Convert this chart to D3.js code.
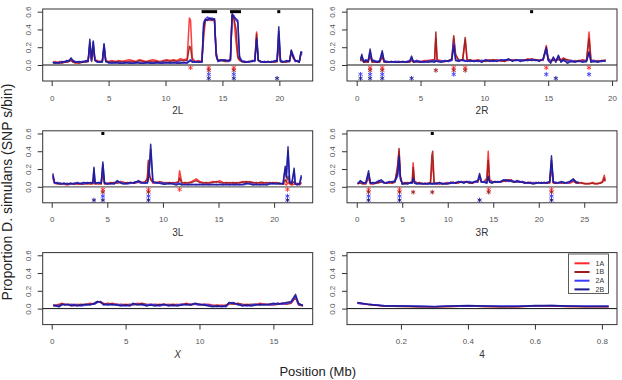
<!DOCTYPE html>
<html><head><meta charset="utf-8">
<script src="https://cdn.jsdelivr.net/npm/d3@7"></script>
<style>body{margin:0;background:#fff}svg{display:block}text{font-family:"Liberation Sans",Arial,sans-serif}</style>
</head><body><svg id="c" width="622" height="380"></svg>
<script>
const seriesNames = ["1A","1B","2A","2B"];
const seriesColors = ["#ff2a2a","#9e1c1c","#3a3aff","#1c1a8e"];
const chromosomes = ["2L","2R","3L","3R","X","4"];
const xTicks = {"2L":[0,5,10,15,20],"2R":[0,5,10,15,20],"3L":[0,5,10,15,20],"3R":[0,5,10,15,20,25],"X":[0,5,10,15],"4":[0.2,0.4,0.6,0.8]};
const yTicks = [0,0.2,0.4,0.6];
const yTickLabels = ["0.0","0.2","0.4","0.6"];

// ---- 2L ----
const pos_2L = [0.1,0.3,0.5,0.7,0.9,1.1,1.3,1.5,1.7,1.9,
 2.1,2.4,2.7,3.0,3.2,3.35,3.5,3.65,3.8,4.0,
 4.2,4.45,4.6,4.75,5.0,5.3,5.6,5.9,6.2,6.5,
 6.8,7.1,7.4,7.7,8.0,8.3,8.6,8.9,9.2,9.5,
 9.8,10.1,10.4,10.7,11.0,11.3,11.6,11.9,12.1,12.2,
 12.35,12.6,12.9,13.2,13.35,13.5,13.7,13.9,14.1,14.3,
 14.45,14.6,14.9,15.2,15.5,15.7,15.85,16.0,16.2,16.35,
 16.5,16.7,17.0,17.3,17.6,17.85,18.0,18.15,18.4,18.7,
 19.0,19.3,19.6,19.8,19.95,20.1,20.3,20.6,20.9,21.05,
 21.2,21.4,21.6,21.75,21.9,22.0];
const v1A_2L = [.03,.04,.03,.04,.03,.04,.03,.05,.06,.03,
 .02,.03,.04,.04,.05,.20,.05,.18,.06,.05,
 .04,.05,.18,.05,.04,.05,.04,.05,.04,.05,
 .06,.05,.04,.06,.05,.04,.05,.06,.05,.04,
 .05,.06,.05,.06,.05,.07,.06,.07,.53,.50,
 .08,.04,.05,.04,.30,.50,.52,.50,.51,.52,
 .15,.05,.06,.05,.05,.06,.55,.52,.25,.08,
 .05,.04,.04,.03,.05,.05,.37,.05,.04,.03,
 .04,.03,.04,.05,.20,.04,.03,.04,.05,.14,
 .08,.04,.05,.04,.12,.12];
const v1B_2L = [.02,.03,.02,.03,.02,.03,.03,.04,.05,.03,
 .03,.02,.03,.03,.04,.22,.04,.20,.05,.04,
 .03,.04,.20,.04,.03,.04,.03,.04,.04,.03,
 .04,.04,.03,.05,.04,.03,.04,.04,.04,.03,
 .04,.05,.04,.05,.04,.05,.05,.05,.21,.20,
 .05,.03,.04,.03,.40,.50,.51,.52,.50,.51,
 .13,.04,.05,.04,.04,.05,.56,.53,.40,.10,
 .06,.04,.03,.04,.04,.05,.35,.05,.03,.04,
 .03,.04,.03,.04,.30,.05,.04,.03,.04,.16,
 .09,.05,.04,.03,.14,.13];
const v2A_2L = [.03,.03,.02,.03,.03,.04,.04,.05,.07,.05,
 .04,.03,.04,.04,.05,.25,.05,.26,.06,.03,
 .04,.03,.23,.05,.02,.03,.02,.03,.02,.02,
 .03,.02,.02,.03,.02,.02,.03,.02,.02,.03,
 .03,.02,.03,.02,.03,.03,.02,.03,.05,.06,
 .04,.03,.04,.03,.48,.52,.54,.51,.53,.50,
 .12,.04,.05,.06,.04,.05,.55,.56,.50,.48,
 .10,.05,.04,.03,.05,.04,.28,.06,.03,.04,
 .03,.04,.04,.05,.38,.05,.04,.04,.05,.15,
 .12,.04,.05,.04,.13,.12];
const v2B_2L = [.03,.02,.03,.02,.04,.03,.05,.04,.08,.04,
 .03,.04,.03,.05,.04,.29,.06,.27,.05,.04,
 .03,.04,.24,.04,.03,.02,.03,.02,.02,.03,
 .02,.02,.03,.02,.02,.03,.02,.02,.03,.02,
 .02,.03,.02,.03,.02,.02,.03,.02,.04,.05,
 .03,.04,.03,.04,.45,.51,.50,.53,.51,.52,
 .10,.05,.06,.05,.05,.06,.58,.54,.52,.50,
 .08,.04,.03,.04,.04,.05,.30,.05,.04,.03,
 .04,.03,.05,.04,.43,.04,.03,.05,.04,.17,
 .10,.05,.04,.03,.15,.14];

// ---- 2R ----
const pos_2R = [0.3,0.4,0.55,0.7,0.9,1.05,1.2,1.4,1.6,1.8,
 2.0,2.15,2.4,2.7,3.0,3.3,3.6,3.9,4.15,4.3,
 4.45,4.7,5.0,5.3,5.6,5.9,6.1,6.2,6.3,6.6,
 6.9,7.2,7.45,7.6,7.75,8.0,8.3,8.5,8.65,8.9,
 9.2,9.5,9.8,10.1,10.4,10.7,11.0,11.3,11.6,11.9,
 12.2,12.5,12.8,13.1,13.4,13.7,14.0,14.3,14.6,14.85,
 15.0,15.2,15.4,15.6,15.8,16.0,16.2,16.5,16.8,17.1,
 17.4,17.7,18.0,18.2,18.35,18.6,18.9,19.2,19.5];
const v1A_2R = [.05,.08,.04,.03,.04,.10,.04,.03,.04,.03,
 .09,.04,.03,.04,.03,.04,.03,.04,.03,.05,
 .04,.05,.04,.05,.05,.06,.05,.30,.06,.05,
 .04,.05,.07,.30,.10,.06,.05,.28,.06,.05,
 .05,.06,.04,.05,.06,.05,.06,.04,.05,.05,
 .06,.05,.06,.05,.07,.06,.05,.06,.05,.22,
 .08,.04,.06,.05,.07,.06,.08,.05,.04,.05,
 .04,.06,.05,.37,.06,.04,.05,.04,.06];
const v1B_2R = [.04,.07,.03,.04,.03,.12,.03,.04,.03,.04,
 .10,.03,.04,.03,.04,.03,.04,.03,.04,.06,
 .03,.04,.03,.04,.04,.05,.06,.37,.05,.04,
 .05,.04,.06,.33,.12,.05,.06,.31,.05,.06,
 .04,.05,.05,.04,.05,.06,.05,.05,.04,.06,
 .05,.06,.05,.06,.05,.07,.06,.05,.06,.18,
 .07,.05,.05,.06,.06,.05,.07,.06,.05,.04,
 .05,.05,.04,.30,.05,.05,.04,.05,.05];
const v2A_2R = [.07,.10,.04,.06,.05,.15,.06,.05,.04,.05,
 .14,.05,.04,.03,.04,.04,.03,.04,.05,.08,
 .04,.05,.04,.03,.05,.04,.05,.04,.05,.04,
 .05,.04,.05,.25,.06,.05,.05,.04,.05,.04,
 .05,.04,.05,.05,.05,.04,.05,.05,.06,.06,
 .05,.05,.06,.05,.05,.06,.05,.05,.06,.18,
 .06,.04,.08,.05,.10,.04,.05,.04,.05,.04,
 .04,.04,.05,.13,.04,.05,.04,.04,.05];
const v2B_2R = [.06,.12,.03,.05,.04,.18,.05,.04,.03,.04,
 .16,.04,.03,.04,.03,.03,.04,.03,.04,.10,
 .03,.04,.03,.04,.03,.04,.03,.05,.04,.03,
 .04,.05,.06,.22,.05,.04,.06,.05,.04,.05,
 .04,.05,.03,.06,.04,.05,.04,.06,.05,.07,
 .04,.06,.04,.05,.06,.05,.06,.04,.07,.20,
 .05,.02,.09,.03,.11,.03,.06,.02,.04,.03,
 .05,.03,.04,.15,.03,.04,.03,.05,.04];

// ---- 3L ----
const pos_3L = [0.1,0.25,0.5,0.8,1.1,1.4,1.7,2.0,2.3,2.6,
 2.9,3.2,3.5,3.7,3.8,3.9,4.2,4.45,4.6,4.75,
 5.0,5.3,5.6,5.9,6.2,6.5,6.8,7.1,7.4,7.8,
 8.1,8.4,8.6,8.7,8.8,8.9,9.1,9.4,9.7,10.0,
 10.3,10.6,10.9,11.2,11.4,11.5,11.7,12.0,12.3,12.6,
 13.0,13.3,13.6,13.9,14.2,14.5,14.8,15.1,15.4,15.7,
 16.0,16.3,16.6,16.9,17.2,17.5,17.8,18.1,18.4,18.7,
 19.0,19.3,19.6,19.9,20.2,20.5,20.8,21.0,21.1,21.25,
 21.4,21.6,21.8,21.9,22.1,22.3,22.45];
const v1A_3L = [.10,.04,.03,.04,.03,.02,.03,.04,.03,.03,
 .04,.03,.04,.03,.10,.04,.03,.04,.15,.03,
 .04,.05,.04,.05,.06,.04,.05,.04,.05,.06,
 .05,.06,.08,.28,.12,.10,.04,.05,.06,.04,
 .05,.04,.05,.04,.06,.18,.05,.04,.05,.06,
 .09,.06,.05,.04,.05,.06,.05,.07,.05,.04,
 .05,.04,.05,.04,.06,.05,.06,.04,.05,.04,
 .04,.05,.04,.05,.04,.03,.04,.03,.02,.05,
 .03,.02,.03,.04,.03,.02,.04];
const v1B_3L = [.12,.05,.04,.03,.04,.03,.04,.03,.04,.03,
 .03,.04,.03,.04,.12,.03,.04,.03,.18,.04,
 .03,.04,.05,.04,.05,.05,.04,.05,.04,.05,
 .04,.05,.10,.30,.14,.08,.05,.04,.05,.05,
 .04,.05,.04,.05,.05,.10,.04,.05,.04,.05,
 .07,.05,.04,.05,.04,.05,.06,.05,.04,.05,
 .04,.05,.04,.05,.05,.06,.05,.05,.04,.05,
 .05,.04,.05,.04,.05,.04,.03,.08,.05,.12,
 .04,.03,.06,.03,.04,.03,.05];
const v2A_3L = [.13,.04,.05,.04,.03,.04,.03,.04,.05,.03,
 .04,.05,.04,.05,.20,.05,.04,.05,.25,.05,
 .04,.03,.04,.06,.05,.04,.03,.04,.05,.06,
 .04,.05,.04,.08,.22,.42,.05,.04,.05,.04,
 .04,.03,.04,.03,.04,.04,.03,.02,.03,.02,
 .03,.02,.03,.02,.03,.02,.03,.02,.03,.02,
 .03,.02,.02,.03,.02,.03,.04,.03,.02,.03,
 .02,.03,.04,.03,.04,.03,.04,.20,.12,.40,
 .06,.05,.18,.04,.03,.03,.11];
const v2B_3L = [.15,.05,.04,.03,.04,.03,.04,.03,.04,.04,
 .05,.04,.05,.04,.22,.04,.05,.04,.28,.04,
 .03,.04,.03,.07,.04,.03,.04,.05,.04,.07,
 .05,.04,.05,.10,.25,.48,.06,.05,.04,.03,
 .03,.04,.03,.02,.03,.03,.02,.03,.02,.03,
 .02,.03,.02,.03,.02,.03,.02,.03,.02,.03,
 .02,.03,.03,.02,.03,.04,.03,.02,.03,.02,
 .03,.02,.03,.04,.03,.04,.03,.23,.10,.45,
 .05,.04,.21,.03,.02,.04,.13];

// ---- 3R ----
const pos_3R = [0.1,0.4,0.7,1.0,1.3,1.5,1.8,2.1,2.4,2.7,
 3.0,3.3,3.6,3.9,4.2,4.5,4.65,4.8,5.0,5.3,
 5.6,5.9,6.1,6.2,6.35,6.6,6.9,7.2,7.5,7.8,
 8.1,8.25,8.35,8.5,8.8,9.1,9.4,9.7,10.0,10.3,
 10.6,10.9,11.2,11.5,11.8,12.1,12.4,12.7,13.0,13.3,
 13.5,13.7,14.0,14.3,14.45,14.6,14.9,15.2,15.5,15.8,
 16.1,16.4,16.7,17.0,17.3,17.6,17.9,18.2,18.5,18.8,
 19.1,19.4,19.7,20.0,20.3,20.6,20.9,21.2,21.4,21.6,
 21.9,22.2,22.5,22.8,23.1,23.4,23.8,24.1,24.4,24.7,
 25.0,25.3,25.6,25.9,26.2,26.5,26.8,27.0,27.2,27.3];
const v1A_3R = [.03,.05,.04,.03,.10,.03,.04,.05,.04,.06,
 .04,.05,.04,.05,.06,.20,.40,.12,.04,.05,
 .04,.05,.06,.27,.05,.04,.05,.03,.04,.03,
 .04,.20,.30,.04,.03,.04,.03,.04,.05,.04,
 .04,.05,.04,.06,.05,.06,.05,.04,.05,.06,
 .10,.05,.06,.10,.40,.08,.05,.06,.05,.06,
 .06,.07,.08,.07,.06,.05,.06,.05,.04,.05,
 .05,.04,.05,.04,.05,.04,.05,.04,.20,.04,
 .05,.04,.05,.04,.05,.04,.06,.05,.04,.05,
 .03,.04,.03,.05,.04,.03,.05,.06,.13,.07];
const v1B_3R = [.04,.04,.03,.04,.12,.04,.03,.04,.05,.05,
 .05,.04,.05,.04,.05,.25,.43,.11,.03,.04,
 .05,.04,.05,.22,.06,.05,.04,.04,.03,.04,
 .05,.35,.40,.05,.04,.03,.04,.03,.04,.05,
 .05,.04,.05,.05,.06,.05,.04,.05,.06,.05,
 .12,.06,.05,.08,.30,.07,.06,.05,.06,.05,
 .07,.06,.07,.08,.05,.06,.05,.06,.05,.04,
 .04,.05,.04,.05,.04,.05,.04,.05,.25,.05,
 .04,.05,.04,.05,.04,.05,.07,.04,.05,.04,
 .04,.03,.04,.04,.03,.04,.04,.05,.10,.06];
const v2A_3R = [.04,.06,.05,.04,.15,.05,.04,.05,.07,.06,
 .04,.05,.05,.06,.06,.12,.30,.08,.04,.03,
 .04,.04,.05,.08,.05,.04,.03,.04,.03,.04,
 .03,.04,.03,.04,.03,.04,.04,.03,.04,.05,
 .04,.05,.05,.06,.05,.05,.06,.05,.05,.06,
 .12,.05,.06,.05,.10,.06,.05,.05,.06,.05,
 .08,.07,.06,.07,.06,.06,.05,.06,.05,.04,
 .05,.04,.05,.04,.05,.04,.05,.05,.30,.06,
 .05,.04,.05,.05,.04,.05,.08,.06,.05,null,
 null,null,null,null,null,null,null,null,null,null];
const v2B_3R = [.03,.07,.04,.05,.18,.04,.05,.04,.06,.08,
 .05,.04,.06,.05,.07,.15,.35,.10,.03,.04,
 .03,.05,.04,.10,.04,.03,.04,.03,.04,.03,
 .04,.03,.04,.03,.04,.05,.03,.04,.03,.04,
 .05,.04,.06,.05,.04,.06,.05,.04,.06,.07,
 .15,.06,.05,.04,.12,.05,.04,.06,.05,.06,
 .07,.08,.07,.06,.05,.07,.06,.05,.04,.05,
 .04,.03,.04,.05,.04,.05,.04,.06,.35,.05,
 .04,.05,.06,.04,.05,.06,.09,.05,.04,null,
 null,null,null,null,null,null,null,null,null,null];

// ---- X ----
const pos_X = [0.1,0.3,0.5,0.7,0.9,1.1,1.3,1.5,1.7,2.0,
 2.3,2.6,2.9,3.1,3.3,3.5,3.8,4.1,4.4,4.7,
 5.0,5.3,5.5,5.8,6.1,6.4,6.7,7.0,7.3,7.6,
 7.9,8.2,8.5,8.8,9.1,9.4,9.7,10.0,10.3,10.6,
 10.9,11.2,11.5,11.8,12.0,12.3,12.6,12.9,13.2,13.5,
 13.8,14.1,14.4,14.7,15.0,15.3,15.6,15.9,16.2,16.5,
 16.7,17.0];
const v1A_X = [.03,.04,.05,.06,.04,.05,.04,.03,.05,.04,
 .05,.06,.05,.07,.08,.06,.05,.06,.05,.04,
 .05,.04,.05,.06,.05,.04,.05,.04,.05,.04,
 .05,.04,.05,.04,.06,.05,.05,.04,.05,.05,
 .04,.03,.04,.03,.05,.06,.05,.04,.05,.04,
 .04,.06,.05,.04,.05,.06,.05,.06,.07,.12,
 .05,.04];
const v1B_X = [.04,.03,.04,.05,.05,.04,.05,.04,.04,.05,
 .04,.05,.06,.08,.07,.05,.06,.05,.04,.05,
 .04,.05,.04,.05,.06,.05,.04,.05,.04,.05,
 .04,.05,.04,.05,.05,.04,.05,.05,.04,.04,
 .03,.04,.03,.04,.06,.05,.06,.05,.04,.05,
 .05,.04,.05,.05,.04,.05,.06,.05,.06,.13,
 .04,.03];
const v2A_X = [.03,.04,.03,.04,.05,.04,.04,.05,.04,.03,
 .04,.05,.05,.07,.08,.04,.05,.04,.05,.04,
 .03,.04,.05,.05,.04,.04,.05,.04,.03,.04,
 .04,.03,.04,.05,.04,.05,.05,.04,.05,.04,
 .03,.02,.03,.02,.06,.07,.04,.04,.03,.04,
 .05,.04,.05,.04,.05,.06,.05,.06,.07,.14,
 .05,.04];
const v2B_X = [.04,.03,.02,.05,.04,.05,.03,.04,.03,.04,
 .05,.04,.06,.08,.07,.05,.04,.05,.04,.03,
 .04,.03,.06,.04,.05,.03,.04,.03,.04,.05,
 .03,.04,.03,.04,.05,.04,.06,.05,.04,.03,
 .02,.03,.02,.03,.07,.06,.05,.03,.04,.03,
 .04,.05,.04,.05,.06,.05,.06,.07,.08,.16,
 .06,.03];

// ---- 4 ----
const pos_4 = [0.07,0.1,0.15,0.2,0.25,0.3,0.35,0.4,0.45,0.5,0.55,0.6,0.65,0.7,0.75,0.82];
const v1A_4 = [.06,.045,.03,.03,.025,.02,.025,.03,.025,.02,.02,.03,.03,.025,.02,.025];
const v1B_4 = [.065,.05,.03,.025,.02,.02,.025,.03,.025,.02,.025,.03,.03,.025,.025,.02];
const v2A_4 = [.06,.05,.035,.03,.03,.025,.03,.03,.03,.03,.03,.03,.035,.03,.03,.03];
const v2B_4 = [.07,.05,.03,.03,.025,.02,.03,.035,.03,.025,.025,.035,.035,.03,.025,.025];

// significance stars (position, series)
const starPos_2L = [12.2, 13.8,13.8,13.8,13.8, 16.0,16.0,16.0,16.0, 19.8];
const starSer_2L = ["1A", "1A","1B","2A","2B", "1A","1B","2A","2B", "2B"];
const starPos_2R = [0.3,0.3, 1.05,1.05,1.05,1.05, 2.0,2.0,2.0,2.0, 4.3, 6.2, 7.6,7.6,7.6, 8.5,8.5, 14.85,14.85, 15.6, 18.2,18.2];
const starSer_2R = ["2A","2B", "1A","1B","2A","2B", "1A","1B","2A","2B", "2B", "1B", "1A","1B","2A", "1A","1B", "1A","2A", "2B", "1A","2A"];
const starPos_3L = [3.8, 4.6,4.6,4.6,4.6, 8.7,8.7,8.7,8.7, 11.5, 21.2,21.2,21.2];
const starSer_3L = ["2B", "1A","1B","2A","2B", "1A","1B","2A","2B", "1A", "1A","2A","2B"];
const starPos_3R = [1.3,1.3,1.3,1.3, 4.7,4.7,4.7,4.7, 6.2, 8.3, 13.5, 14.5,14.5, 21.4,21.4,21.4,21.4];
const starSer_3R = ["1A","1B","2A","2B", "1A","1B","2A","2B", "1B", "1B", "2B", "1A","1B", "1A","1B","2A","2B"];
const starPos_X = [], starSer_X = [], starPos_4 = [], starSer_4 = [];

// shared-region markers at top (start, end)
const mark_2L = [[13.3,14.4],[15.8,16.5],[19.95,19.95]];
const mark_2R = [[13.7,13.7]];
const mark_3L = [[4.6,4.6]];
const mark_3R = [[8.3,8.3]];
const mark_X = [], mark_4 = [];

const data = {
 "2L":{pos:pos_2L,vals:[v1A_2L,v1B_2L,v2A_2L,v2B_2L],sp:starPos_2L,ss:starSer_2L,mk:mark_2L},
 "2R":{pos:pos_2R,vals:[v1A_2R,v1B_2R,v2A_2R,v2B_2R],sp:starPos_2R,ss:starSer_2R,mk:mark_2R},
 "3L":{pos:pos_3L,vals:[v1A_3L,v1B_3L,v2A_3L,v2B_3L],sp:starPos_3L,ss:starSer_3L,mk:mark_3L},
 "3R":{pos:pos_3R,vals:[v1A_3R,v1B_3R,v2A_3R,v2B_3R],sp:starPos_3R,ss:starSer_3R,mk:mark_3R},
 "X":{pos:pos_X,vals:[v1A_X,v1B_X,v2A_X,v2B_X],sp:starPos_X,ss:starSer_X,mk:mark_X},
 "4":{pos:pos_4,vals:[v1A_4,v1B_4,v2A_4,v2B_4],sp:starPos_4,ss:starSer_4,mk:mark_4}
};

// layout
const xDomains = {"2L":[-0.79,22.93],"2R":[-0.76,20.39],"3L":[-0.81,23.47],"3R":[-1.07,28.6],"X":[-0.61,17.66],"4":[0.039,0.845]};
const colLeft = [42.7, 347], boxW = 270;
const rowTop = [9, 130.8, 252.6], boxH = 72;
const starY = {"1A":-0.03,"1B":-0.06,"2A":-0.105,"2B":-0.15};
const svg = d3.select("#c");

function asterisk(g, x, y, color){
  const r = 2.4;
  for (let k=0;k<3;k++){
    const a = Math.PI/2 + k*Math.PI/3;
    g.append("line").attr("x1",x-r*Math.cos(a)).attr("y1",y-r*Math.sin(a))
      .attr("x2",x+r*Math.cos(a)).attr("y2",y+r*Math.sin(a))
      .attr("stroke",color).attr("stroke-width",0.9);
  }
}

chromosomes.forEach((chr,i)=>{
  const col = i%2, row = Math.floor(i/2);
  const L = colLeft[col], T = rowTop[row];
  const x = d3.scaleLinear().domain(xDomains[chr]).range([L, L+boxW]);
  const y = d3.scaleLinear().domain([-0.18,0.63]).range([T+boxH, T]);
  const g = svg.append("g");
  const d = data[chr];

  // zero line
  g.append("line").attr("x1",L).attr("x2",L+boxW).attr("y1",y(0)).attr("y2",y(0))
    .attr("stroke", row===1 ? "#666" : "#111").attr("stroke-width", row===1?1.3:1);

  // series lines
  d.vals.forEach((vals,si)=>{
    const pts = d.pos.map((p,k)=>[p, vals[k]]);
    const line = d3.line().defined(p=>p[1]!=null && p[1]!==undefined).x(p=>x(p[0])).y(p=>y(p[1]));
    g.append("path").attr("d",line(pts)).attr("fill","none")
      .attr("stroke",seriesColors[si]).attr("stroke-width",1.5).attr("stroke-linejoin","round")
      .attr("opacity",0.9);
  });

  // stars
  d.sp.forEach((p,k)=>{
    const s = d.ss[k];
    asterisk(g, x(p), y(starY[s]), seriesColors[seriesNames.indexOf(s)]);
  });

  // top markers
  d.mk.forEach(m=>{
    const x0 = x(m[0])-1.5, x1 = x(m[1])+1.5;
    g.append("rect").attr("x",x0).attr("y",y(0.6)-1.5).attr("width",x1-x0).attr("height",3).attr("fill","#000");
  });

  // box
  g.append("rect").attr("x",L).attr("y",T).attr("width",boxW).attr("height",boxH)
    .attr("fill","none").attr("stroke","#333").attr("stroke-width",1);

  // x axis
  const xa = g.append("g").attr("transform",`translate(0,${T+boxH})`)
    .call(d3.axisBottom(x).tickValues(xTicks[chr]).tickSize(5).tickPadding(9)
      .tickFormat(v=> chr==="4" ? d3.format(".1f")(v) : d3.format("d")(v)));
  xa.select(".domain").remove();
  xa.selectAll(".tick line").attr("stroke","#333");
  xa.selectAll("text").attr("font-size",8).attr("fill","#555").attr("font-family","Liberation Sans, Arial, sans-serif");

  // y axis
  const ya = g.append("g").attr("transform",`translate(${L},0)`)
    .call(d3.axisLeft(y).tickValues(yTicks).tickSize(5).tickFormat((v,k)=>yTickLabels[k]));
  ya.select(".domain").remove();
  ya.selectAll(".tick line").attr("stroke","#333");
  ya.selectAll("text").attr("font-size",8).attr("fill","#555")
    .attr("font-family","Liberation Sans, Arial, sans-serif")
    .attr("x",null).attr("dy",null)
    .attr("text-anchor","middle").attr("transform","translate(-14,0) rotate(-90)")
    .attr("dominant-baseline","middle");

  // chromosome title
  g.append("text").attr("x",L+boxW/2).attr("y",T+boxH+33).attr("text-anchor","middle")
    .attr("font-size",10).attr("fill","#333").attr("font-style", chr==="X"?"italic":"normal").text(chr);

  // legend in last panel
  if (chr==="4"){
    const lg = g.append("g");
    lg.append("rect").attr("x",568.5).attr("y",254).attr("width",40).attr("height",39.5)
      .attr("fill","#fff").attr("stroke","#333").attr("stroke-width",0.8);
    seriesNames.forEach((s,k)=>{
      const yy = 263.3 + k*8.7;
      lg.append("line").attr("x1",574.5).attr("x2",589.5).attr("y1",yy).attr("y2",yy)
        .attr("stroke",seriesColors[k]).attr("stroke-width",2);
      lg.append("text").attr("x",595.5).attr("y",yy).attr("dy","0.35em").attr("font-size",7)
        .attr("fill","#333").text(s);
    });
  }
});

// outer labels
svg.append("text").attr("x",317.7).attr("y",376).attr("text-anchor","middle")
  .attr("font-size",13).attr("fill","#222").text("Position (Mb)");
svg.append("text").attr("transform","translate(12,192) rotate(-90)").attr("text-anchor","middle")
  .attr("font-size",14).attr("fill","#222").text("Proportion D. simulans (SNP s/bin)");
</script></body></html>
